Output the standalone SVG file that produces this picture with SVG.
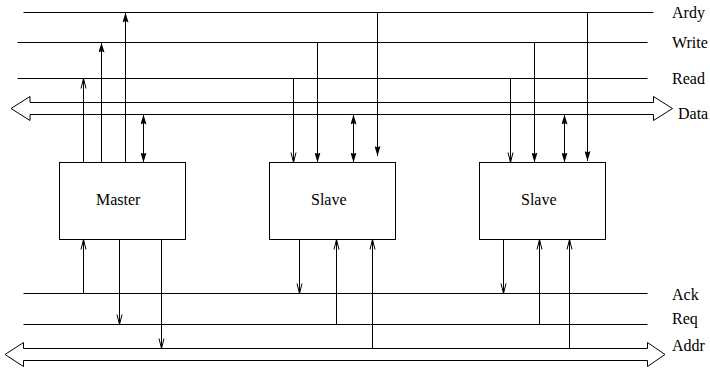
<svg xmlns="http://www.w3.org/2000/svg" width="710" height="368" viewBox="0 0 710 368">
<style>
.ln{stroke:#000;stroke-width:1;fill:none}
.bus{stroke:#000;stroke-width:1;fill:#fff}
.box{stroke:#000;stroke-width:1;fill:#fff}
.t{font-family:"Liberation Serif","Times New Roman",serif;font-size:16px;fill:#000}
.f{marker-end:url(#fa)}
.o{marker-end:url(#oa)}
.b{marker-start:url(#fa);marker-end:url(#fa)}
</style>
<defs>
<marker id="fa" viewBox="0 0 10 6" refX="10" refY="3" markerWidth="10" markerHeight="6" markerUnits="userSpaceOnUse" orient="auto-start-reverse">
<path d="M0,0 L10,3 L0,6 L1.5,3 z" fill="#000"/>
</marker>
<marker id="oa" viewBox="-1 -1 12 7" refX="10" refY="2.5" markerWidth="12" markerHeight="7" markerUnits="userSpaceOnUse" orient="auto">
<path d="M0,0 L10,2.5 L0,5" fill="none" stroke="#000" stroke-width="1"/>
</marker>
</defs>
<g id="bus-lines">
<line class="ln" x1="23.5" y1="12.5" x2="653.5" y2="12.5"/>
<line class="ln" x1="17.5" y1="42.5" x2="647.5" y2="42.5"/>
<line class="ln" x1="17.5" y1="78.5" x2="647.5" y2="78.5"/>
<polygon class="bus" points="11,108.5 30,96.5 30,102.5 653.5,102.5 653.5,96.5 672.5,108.5 653.5,120.5 653.5,114.5 30,114.5 30,120.5"/>
<line class="ln" x1="23.5" y1="293.5" x2="647.5" y2="293.5"/>
<line class="ln" x1="23.5" y1="324.5" x2="647.5" y2="324.5"/>
<polygon class="bus" points="5,354.5 23.5,342.5 23.5,348.5 647.5,348.5 647.5,342.5 665,354.5 647.5,366.5 647.5,360.5 23.5,360.5 23.5,366.5"/>
<text class="t" x="672" y="17.5">Ardy</text>
<text class="t" x="672" y="47.5">Write</text>
<text class="t" x="672" y="83.5">Read</text>
<text class="t" x="678" y="119">Data</text>
<text class="t" x="672" y="300">Ack</text>
<text class="t" x="672" y="323.5">Req</text>
<text class="t" x="672" y="350.5">Addr</text>
</g>
<g id="master">
<rect class="box" x="59.5" y="162.5" width="126" height="77"/>
<text class="t" x="96" y="205">Master</text>
</g>
<g id="slave1">
<rect class="box" x="269.5" y="162.5" width="126" height="77"/>
<text class="t" x="311" y="205">Slave</text>
</g>
<g id="slave2">
<rect class="box" x="479.5" y="162.5" width="126" height="77"/>
<text class="t" x="521" y="205">Slave</text>
</g>
<g id="connectors">
<line class="ln o" x1="83.5" y1="162.5" x2="83.5" y2="78.5"/>
<line class="ln f" x1="101.5" y1="162.5" x2="101.5" y2="42.5"/>
<line class="ln f" x1="125.5" y1="162.5" x2="125.5" y2="12.5"/>
<line class="ln b" x1="143.5" y1="114.5" x2="143.5" y2="162.5"/>
<line class="ln o" x1="83.5" y1="293.5" x2="83.5" y2="239.5"/>
<line class="ln o" x1="119.5" y1="239.5" x2="119.5" y2="324.5"/>
<line class="ln o" x1="161.5" y1="239.5" x2="161.5" y2="348.5"/>
<line class="ln o" x1="293.5" y1="78.5" x2="293.5" y2="162.5"/>
<line class="ln f" x1="317.5" y1="42.5" x2="317.5" y2="162.5"/>
<line class="ln b" x1="353.5" y1="114.5" x2="353.5" y2="162.5"/>
<line class="ln f" x1="377.5" y1="12.5" x2="377.5" y2="156"/>
<line class="ln o" x1="299.5" y1="239.5" x2="299.5" y2="293.5"/>
<line class="ln o" x1="336.5" y1="324.5" x2="336.5" y2="239.5"/>
<line class="ln o" x1="372.5" y1="348.5" x2="372.5" y2="239.5"/>
<line class="ln o" x1="510.5" y1="78.5" x2="510.5" y2="162.5"/>
<line class="ln f" x1="534.5" y1="42.5" x2="534.5" y2="162.5"/>
<line class="ln b" x1="564.5" y1="114.5" x2="564.5" y2="162.5"/>
<line class="ln f" x1="587.5" y1="12.5" x2="587.5" y2="161"/>
<line class="ln o" x1="503.5" y1="239.5" x2="503.5" y2="293.5"/>
<line class="ln o" x1="539.5" y1="324.5" x2="539.5" y2="239.5"/>
<line class="ln o" x1="569.5" y1="348.5" x2="569.5" y2="239.5"/>
</g>
</svg>
